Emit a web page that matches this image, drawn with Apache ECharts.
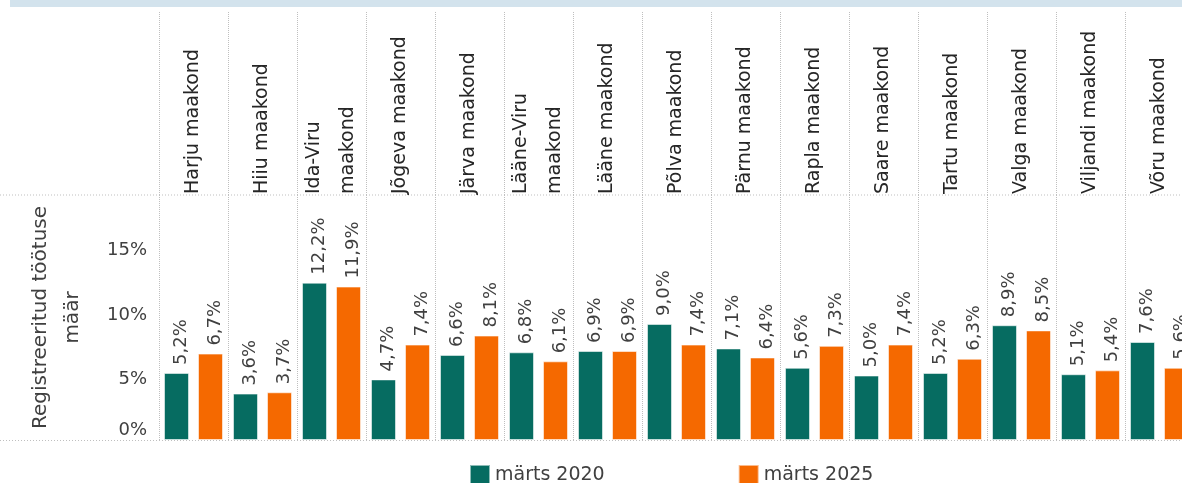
<!DOCTYPE html>
<html>
<head>
<meta charset="utf-8">
<script src="https://cdn.jsdelivr.net/npm/echarts@6/dist/echarts.min.js"></script>
<style>
  html, body { margin: 0; padding: 0; background: #fff; overflow: hidden; }
  #chart { width: 1194px; height: 483px; }
</style>
</head>
<body>
<div id="chart"></div>
<script>
// maakonnad ja registreeritud töötuse määr (%)
const counties = ['Harju maakond', 'Hiiu maakond', 'Ida-Viru\nmaakond', 'Jõgeva maakond', 'Järva maakond',
  'Lääne-Viru\nmaakond', 'Lääne maakond', 'Põlva maakond', 'Pärnu maakond', 'Rapla maakond',
  'Saare maakond', 'Tartu maakond', 'Valga maakond', 'Viljandi maakond', 'Võru maakond']
const march2020 = [5.2, 3.6, 12.2, 4.7, 6.6, 6.8, 6.9, 9.0, 7.1, 5.6, 5.0, 5.2, 8.9, 5.1, 7.6]
const march2025 = [6.7, 3.7, 11.9, 7.4, 8.1, 6.1, 6.9, 7.4, 6.4, 7.3, 7.4, 6.3, 8.5, 5.4, 5.6]
const yTicks = [0, 5, 10, 15]
const seriesNames = ['märts 2020', 'märts 2025']

const font = 'DejaVu Sans'
const textColor = '#404040'
const dotColor = '#bfbfbf'

// the plot runs past the right edge of the 1182px picture, like the original
let chart = echarts.init(document.getElementById('chart'))

function pct(v) {
  return v.toFixed(1).replace('.', ',') + '%'
}

function barSeries(name, data, color) {
  return {
    name: name,
    type: 'bar',
    xAxisIndex: 0,
    yAxisIndex: 0,
    data: data,
    barWidth: 25,
    barGap: '36%',
    itemStyle: { color: color, borderColor: 'rgba(255,255,255,0.55)', borderWidth: 1 },
    label: {
      show: true,
      position: 'top',
      distance: 8,
      rotate: 90,
      align: 'left',
      verticalAlign: 'middle',
      offset: [0, 5],
      fontFamily: font,
      fontSize: 18,
      color: textColor,
      formatter: p => pct(p.value)
    }
  }
}

let option = {
  animation: false,
  backgroundColor: '#fff',
  textStyle: { fontFamily: font },
  grid: [
    { left: 159, right: 0, top: 195, height: 245 },
    { left: 159, right: 0, top: 12, height: 183 }
  ],
  xAxis: [
    {
      type: 'category',
      gridIndex: 0,
      data: counties,
      axisLine: { show: false },
      axisTick: { show: false },
      axisLabel: { show: false },
      splitLine: { show: true, interval: 0, lineStyle: { color: dotColor, type: 'dotted', width: 1 } }
    },
    {
      type: 'category',
      gridIndex: 1,
      data: counties,
      axisLine: { show: false },
      axisTick: { show: false },
      axisLabel: {
        inside: true,
        rotate: 90,
        interval: 0,
        margin: 1,
        fontFamily: font,
        fontSize: 19,
        lineHeight: 34,
        color: '#262626'
      },
      splitLine: { show: true, interval: 0, lineStyle: { color: dotColor, type: 'dotted', width: 1 } }
    }
  ],
  yAxis: [
    {
      type: 'value',
      gridIndex: 0,
      min: 0,
      max: 19,
      interval: 5,
      name: 'Registreeritud töötuse\nmäär',
      nameLocation: 'middle',
      nameRotate: 90,
      nameGap: 70,
      nameTextStyle: { fontFamily: font, fontSize: 20, lineHeight: 32, color: textColor },
      axisLine: { show: false },
      axisTick: { show: false },
      splitLine: { show: false },
      axisLabel: {
        margin: 12,
        showMaxLabel: false,
        formatter: function (v) {
          if (yTicks.indexOf(v) < 0) return ''
          return v === 0 ? '{z|0%}' : '{a|' + v + '%}'
        },
        rich: {
          a: { fontFamily: font, fontSize: 18, color: textColor, padding: [8, 0, 0, 0] },
          z: { fontFamily: font, fontSize: 18, color: textColor, padding: [0, 0, 20, 0] }
        }
      }
    },
    {
      type: 'value',
      gridIndex: 1,
      show: false
    }
  ],
  legend: {
    left: 469,
    top: 464,
    padding: 0,
    itemWidth: 20,
    itemHeight: 20,
    itemGap: 133,
    icon: 'rect',
    data: seriesNames,
    textStyle: { fontFamily: font, fontSize: 19, color: textColor }
  },
  graphic: [
    { type: 'rect', left: 10, top: 0, shape: { width: 1184, height: 7 }, style: { fill: '#d3e3ed' }, z: -1 },
    { type: 'line', shape: { x1: 0, y1: 195, x2: 1194, y2: 195 }, style: { stroke: dotColor, lineDash: [1, 2], lineWidth: 1 }, z: -1 },
    { type: 'line', shape: { x1: 0, y1: 440.5, x2: 1194, y2: 440.5 }, style: { stroke: dotColor, lineDash: [1, 2], lineWidth: 1 }, z: -1 }
  ],
  series: [
    barSeries(seriesNames[0], march2020, '#066c61'),
    barSeries(seriesNames[1], march2025, '#f56900')
  ]
}

chart.setOption(option)
</script>
</body>
</html>
